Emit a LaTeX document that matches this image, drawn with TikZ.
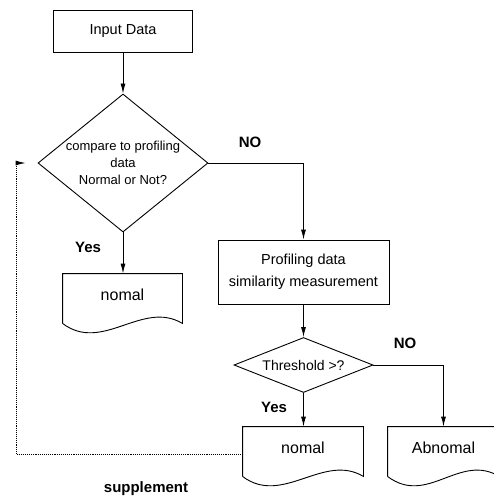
\documentclass[tikz,border=0pt]{standalone}
\usepackage{fontspec}
\setmainfont{Liberation Sans}
\usetikzlibrary{arrows.meta,calc,shapes.geometric,positioning}

\tikzset{
  box/.style={draw, rectangle, inner sep=0, align=center, font=\fontsize{14.5}{22}\selectfont},
  decision/.style={draw, diamond, inner sep=0, align=center},
  doc/.style={rectangle, inner sep=0, minimum height=42, font=\fontsize{16}{19}\selectfont},
  lbl/.style={font=\bfseries\fontsize{15}{18}\selectfont},
  flow/.style={-{Latex[length=10pt,width=5pt]}},
}
% outline of a document symbol round a doc node
\newcommand{\docoutline}[1]{%
  \draw ($(#1.south west)+(0,7)$) -- (#1.north west) -- (#1.north east) -- ($(#1.south east)+(0,7)$)
    .. controls +(-40,-24) and +(40,30) .. ($(#1.south west)+(0,7)$);}

\begin{document}
\begin{tikzpicture}[x=1pt, y=-1pt, line width=0.9pt]
\clip (0,0) rectangle (494,501);
\node[box, minimum width=139, minimum height=42] (input) at (123,31) {Input Data};
\node[decision, minimum width=170, minimum height=138, aspect=1.23, font=\fontsize{13}{17}\selectfont] (cmp) at (123,163) {compare to profiling\\data\\Normal or Not?};
\node[box, minimum width=171, minimum height=64] (prof) at (303.5,272) {Profiling data\\similarity measurement};
\node[decision, minimum width=139, minimum height=55, aspect=2.5, font=\fontsize{14}{17}\selectfont] (thr) at (303.5,365) {Threshold >?};
\node[doc, minimum width=119] (nrm1) at (122.5,295) {nomal};
\node[doc, minimum width=120] (nrm2) at (303,448) {nomal};
\node[doc, minimum width=111] (abn) at (443.5,448) {Abnomal};
\docoutline{nrm1}
\docoutline{nrm2}
\docoutline{abn}

% labels
\node[lbl] (no1) at (250,142) {NO};
\node[lbl] (yes1) at (88,247) {Yes};
\node[lbl] (no2) at (405,343) {NO};
\node[lbl] (yes2) at (274,407) {Yes};
\node[lbl] (supp) at (146,489) {supplement};

% connectors
\draw[flow] (input) -- (cmp);
\draw[flow] (cmp.south) -- (cmp.south |- nrm1.north);
\draw[flow] (cmp.east) -| (prof.north);
\draw[flow] (prof) -- (thr);
\draw[flow] (thr.south) -- (thr.south |- nrm2.north);
\draw[flow] (thr.east) -| (abn.north);
\draw[densely dotted, flow] ($(nrm2.west)+(0,6)$) -| ($(cmp.west)+(-21,0)$) -- ($(cmp.west)+(-12,0)$);
\end{tikzpicture}
\end{document}
